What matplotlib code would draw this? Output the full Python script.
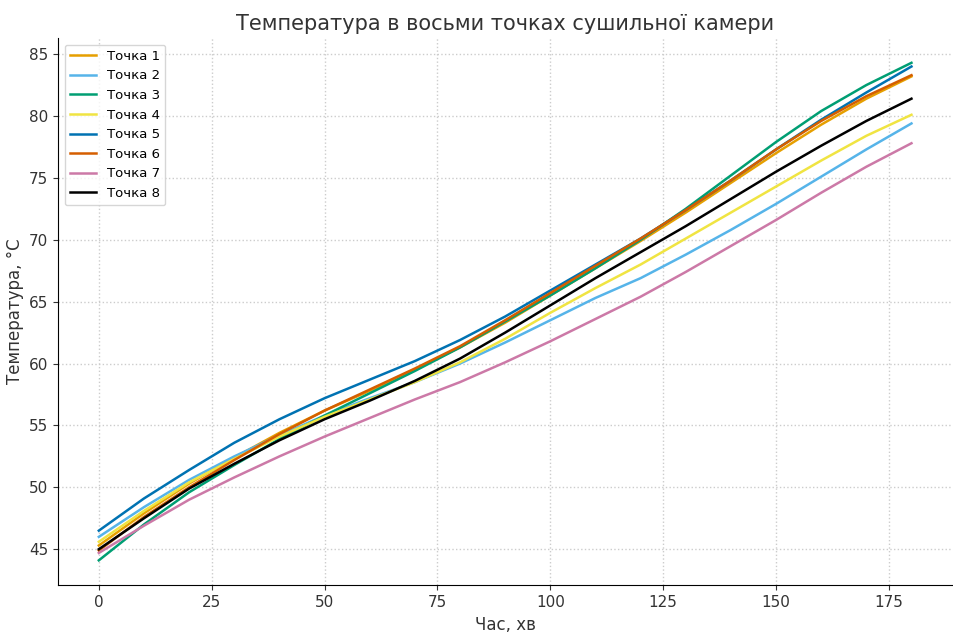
import numpy as np
import matplotlib
matplotlib.use('Agg')
import matplotlib.pyplot as plt

# час, хв
t = [0, 10, 20, 30, 40, 50, 60, 70, 80, 90, 100, 110, 120, 130, 140, 150, 160, 170, 180]

p1 = [45.3, 47.9, 50.3, 52.4, 54.4, 56.2, 57.8, 59.5, 61.3, 63.3,
      65.5, 67.7, 69.9, 72.2, 74.6, 77.0, 79.3, 81.4, 83.2]
p2 = [46.0, 48.4, 50.6, 52.5, 54.2, 55.8, 57.2, 58.5, 60.0, 61.7,
      63.5, 65.3, 66.9, 68.8, 70.8, 72.9, 75.1, 77.3, 79.4]
p3 = [44.1, 47.0, 49.6, 51.8, 53.9, 55.8, 57.6, 59.4, 61.3, 63.4,
      65.5, 67.7, 70.0, 72.5, 75.2, 77.9, 80.4, 82.5, 84.3]
p4 = [45.6, 48.1, 50.4, 52.3, 54.1, 55.7, 57.1, 58.5, 60.1, 62.0,
      64.1, 66.1, 68.0, 70.1, 72.2, 74.3, 76.4, 78.4, 80.1]
p5 = [46.5, 49.1, 51.4, 53.6, 55.5, 57.2, 58.7, 60.2, 61.9, 63.8,
      65.9, 68.0, 70.1, 72.4, 74.8, 77.3, 79.7, 81.9, 84.0]
p6 = [44.9, 47.6, 50.0, 52.2, 54.3, 56.2, 57.9, 59.6, 61.4, 63.5,
      65.7, 67.9, 70.1, 72.4, 74.8, 77.3, 79.6, 81.6, 83.3]
p7 = [44.7, 46.9, 49.0, 50.8, 52.5, 54.1, 55.6, 57.1, 58.5, 60.1,
      61.8, 63.6, 65.4, 67.4, 69.5, 71.6, 73.8, 75.9, 77.8]
p8 = [45.0, 47.5, 49.9, 51.9, 53.8, 55.5, 57.0, 58.6, 60.4, 62.5,
      64.7, 66.9, 69.0, 71.1, 73.3, 75.5, 77.6, 79.6, 81.4]

series = [p1, p2, p3, p4, p5, p6, p7, p8]
labels = ['Точка %d' % (i + 1) for i in range(8)]
colors = ['#E69F00', '#56B4E9', '#009E73', '#F0E442',
          '#0072B2', '#D55E00', '#CC79A7', '#000000']

fig, ax = plt.subplots(figsize=(9.54, 6.32), dpi=100)

for y, lab, c in zip(series, labels, colors):
    ax.plot(t, y, color=c, lw=1.8, label=lab)

ax.set_title('Температура в восьми точках сушильної камери', fontsize=15, color='#333333')
ax.set_xlabel('Час, хв', fontsize=12, color='#333333')
ax.set_ylabel('Температура, °C', fontsize=12, color='#333333')
ax.grid(True, color='#cccccc', linestyle=':', linewidth=1)
ax.spines['top'].set_visible(False)
ax.spines['right'].set_visible(False)
ax.tick_params(labelsize=11, colors='#333333')
ax.legend(loc='upper left', fontsize=9.5)

fig.subplots_adjust(left=0.061, right=0.998, top=0.94, bottom=0.074)
fig.savefig('out.png')
